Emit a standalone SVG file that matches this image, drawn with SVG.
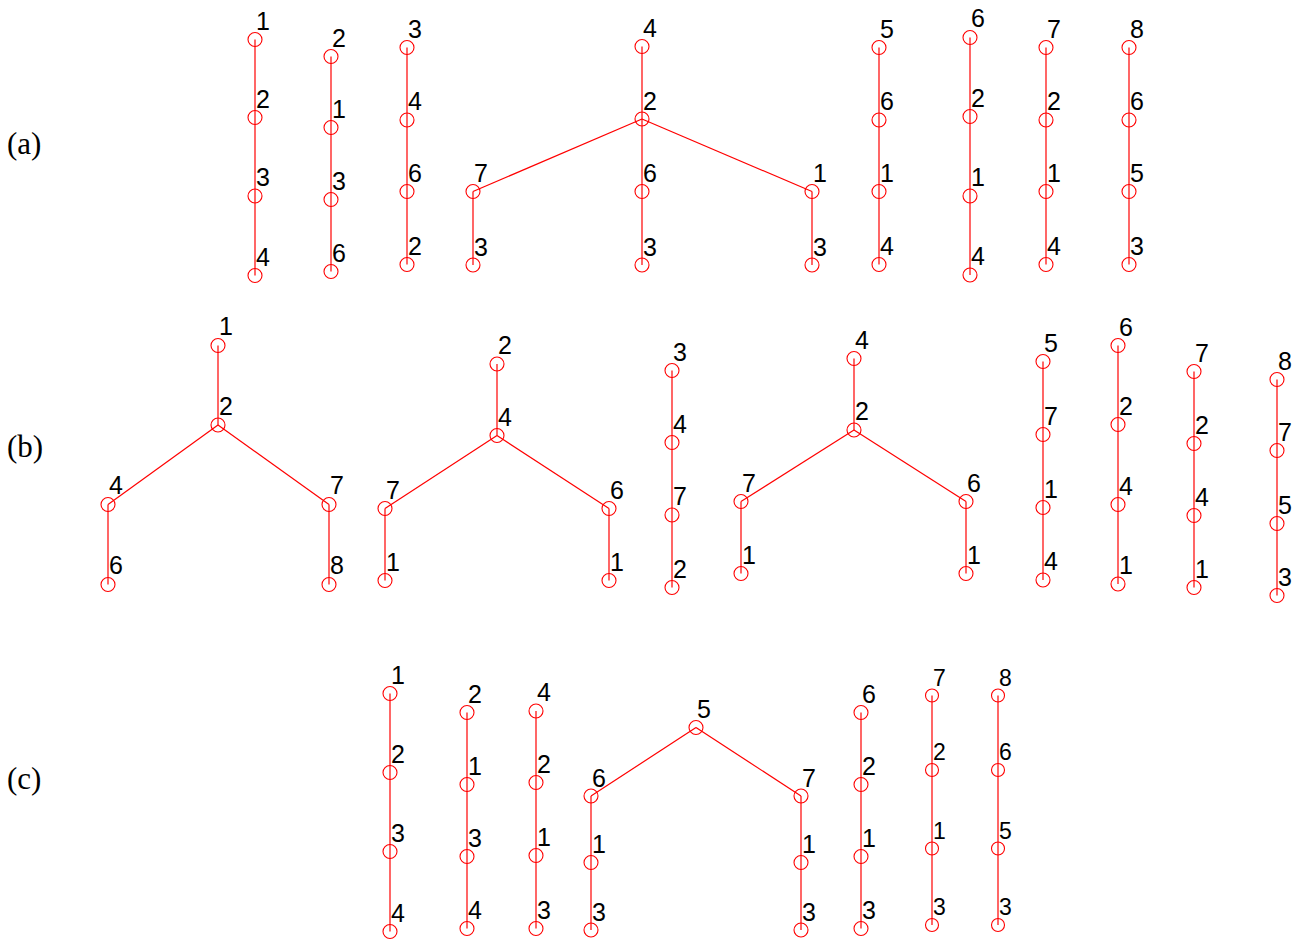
<svg xmlns="http://www.w3.org/2000/svg" width="1301" height="940" viewBox="0 0 1301 940">
<style>
.e{stroke:#ff0000;stroke-width:1.2;fill:none}
.n circle{fill:none;stroke:#ff0000;stroke-width:1.1}
.n text{font-family:"Liberation Sans",Arial,sans-serif;font-size:25px;fill:#000}
.n.sm text{font-size:23px}
.rl{font-family:"Liberation Serif","Times New Roman",serif;font-size:31px;fill:#000}
</style>
<rect width="1301" height="940" fill="#fff"/>
<text class="rl" x="7" y="154">(a)</text>
<text class="rl" x="7" y="457">(b)</text>
<text class="rl" x="7" y="789">(c)</text>
<g id="connectors">
<line class="e" x1="255" y1="39.5" x2="255" y2="275.5"/>
<line class="e" x1="331" y1="56.5" x2="331" y2="271.5"/>
<line class="e" x1="407" y1="47.5" x2="407" y2="264.5"/>
<line class="e" x1="642" y1="46.5" x2="642" y2="265"/>
<line class="e" x1="642" y1="119" x2="473" y2="191.5"/>
<line class="e" x1="642" y1="119" x2="812" y2="191.5"/>
<line class="e" x1="473" y1="191.5" x2="473" y2="265"/>
<line class="e" x1="812" y1="191.5" x2="812" y2="265"/>
<line class="e" x1="879" y1="47.5" x2="879" y2="264.5"/>
<line class="e" x1="970" y1="37.5" x2="970" y2="275"/>
<line class="e" x1="1046" y1="47.5" x2="1046" y2="264.5"/>
<line class="e" x1="1129" y1="47.5" x2="1129" y2="264.5"/>
<line class="e" x1="218" y1="345.5" x2="218" y2="425"/>
<line class="e" x1="218" y1="425" x2="108" y2="504.5"/>
<line class="e" x1="218" y1="425" x2="329" y2="504.5"/>
<line class="e" x1="108" y1="504.5" x2="108" y2="584.5"/>
<line class="e" x1="329" y1="504.5" x2="329" y2="584.5"/>
<line class="e" x1="497" y1="364" x2="497" y2="435.5"/>
<line class="e" x1="497" y1="435.5" x2="385" y2="508.5"/>
<line class="e" x1="497" y1="435.5" x2="609" y2="508.5"/>
<line class="e" x1="385" y1="508.5" x2="385" y2="580.5"/>
<line class="e" x1="609" y1="508.5" x2="609" y2="580.5"/>
<line class="e" x1="672" y1="370.5" x2="672" y2="587.5"/>
<line class="e" x1="854" y1="358.5" x2="854" y2="430"/>
<line class="e" x1="854" y1="430" x2="741" y2="501.5"/>
<line class="e" x1="854" y1="430" x2="966" y2="501.5"/>
<line class="e" x1="741" y1="501.5" x2="741" y2="573.5"/>
<line class="e" x1="966" y1="501.5" x2="966" y2="573.5"/>
<line class="e" x1="1043" y1="361.5" x2="1043" y2="580"/>
<line class="e" x1="1118" y1="345.5" x2="1118" y2="584"/>
<line class="e" x1="1194" y1="371.5" x2="1194" y2="587.5"/>
<line class="e" x1="1277" y1="379.5" x2="1277" y2="595.5"/>
<line class="e" x1="390" y1="693.5" x2="390" y2="931.5"/>
<line class="e" x1="467" y1="712.5" x2="467" y2="928.5"/>
<line class="e" x1="536" y1="711" x2="536" y2="928.5"/>
<line class="e" x1="696" y1="727.5" x2="591" y2="796"/>
<line class="e" x1="696" y1="727.5" x2="801" y2="796"/>
<line class="e" x1="591" y1="796" x2="591" y2="930"/>
<line class="e" x1="801" y1="796" x2="801" y2="930"/>
<line class="e" x1="861" y1="712.5" x2="861" y2="928.5"/>
<line class="e" x1="932" y1="695.5" x2="932" y2="925"/>
<line class="e" x1="998" y1="695.5" x2="998" y2="925"/>
</g>
<g id="a1-1" class="n"><circle cx="255" cy="39.5" r="7"/><text x="256" y="29.5">1</text></g>
<g id="a1-2" class="n"><circle cx="255" cy="117.5" r="7"/><text x="256" y="107.5">2</text></g>
<g id="a1-3" class="n"><circle cx="255" cy="196" r="7"/><text x="256" y="186">3</text></g>
<g id="a1-4" class="n"><circle cx="255" cy="275.5" r="7"/><text x="256" y="265.5">4</text></g>
<g id="a2-2" class="n"><circle cx="331" cy="56.5" r="7"/><text x="332" y="46.5">2</text></g>
<g id="a2-1" class="n"><circle cx="331" cy="127.5" r="7"/><text x="332" y="117.5">1</text></g>
<g id="a2-3" class="n"><circle cx="331" cy="199.5" r="7"/><text x="332" y="189.5">3</text></g>
<g id="a2-6" class="n"><circle cx="331" cy="271.5" r="7"/><text x="332" y="261.5">6</text></g>
<g id="a3-3" class="n"><circle cx="407" cy="47.5" r="7"/><text x="408" y="37.5">3</text></g>
<g id="a3-4" class="n"><circle cx="407" cy="120" r="7"/><text x="408" y="110">4</text></g>
<g id="a3-6" class="n"><circle cx="407" cy="191.5" r="7"/><text x="408" y="181.5">6</text></g>
<g id="a3-2" class="n"><circle cx="407" cy="264.5" r="7"/><text x="408" y="254.5">2</text></g>
<g id="a4-4" class="n"><circle cx="642" cy="46.5" r="7"/><text x="643" y="37">4</text></g>
<g id="a4-2" class="n"><circle cx="642" cy="119" r="7"/><text x="643" y="109.5">2</text></g>
<g id="a4-7" class="n"><circle cx="473" cy="191.5" r="7"/><text x="474" y="182">7</text></g>
<g id="a4-6" class="n"><circle cx="642" cy="191.5" r="7"/><text x="643" y="182">6</text></g>
<g id="a4-1" class="n"><circle cx="812" cy="191.5" r="7"/><text x="813" y="182">1</text></g>
<g id="a4-3a" class="n"><circle cx="473" cy="265" r="7"/><text x="474" y="255.5">3</text></g>
<g id="a4-3b" class="n"><circle cx="642" cy="265" r="7"/><text x="643" y="255.5">3</text></g>
<g id="a4-3c" class="n"><circle cx="812" cy="265" r="7"/><text x="813" y="255.5">3</text></g>
<g id="a5-5" class="n"><circle cx="879" cy="47.5" r="7"/><text x="880" y="37.5">5</text></g>
<g id="a5-6" class="n"><circle cx="879" cy="120" r="7"/><text x="880" y="110">6</text></g>
<g id="a5-1" class="n"><circle cx="879" cy="191.5" r="7"/><text x="880" y="181.5">1</text></g>
<g id="a5-4" class="n"><circle cx="879" cy="264.5" r="7"/><text x="880" y="254.5">4</text></g>
<g id="a6-6" class="n"><circle cx="970" cy="37.5" r="7"/><text x="971" y="26.5">6</text></g>
<g id="a6-2" class="n"><circle cx="970" cy="116.5" r="7"/><text x="971" y="106.5">2</text></g>
<g id="a6-1" class="n"><circle cx="970" cy="196" r="7"/><text x="971" y="186">1</text></g>
<g id="a6-4" class="n"><circle cx="970" cy="275" r="7"/><text x="971" y="265">4</text></g>
<g id="a7-7" class="n"><circle cx="1046" cy="47.5" r="7"/><text x="1047" y="37.5">7</text></g>
<g id="a7-2" class="n"><circle cx="1046" cy="120" r="7"/><text x="1047" y="110">2</text></g>
<g id="a7-1" class="n"><circle cx="1046" cy="191.5" r="7"/><text x="1047" y="181.5">1</text></g>
<g id="a7-4" class="n"><circle cx="1046" cy="264.5" r="7"/><text x="1047" y="254.5">4</text></g>
<g id="a8-8" class="n"><circle cx="1129" cy="47.5" r="7"/><text x="1130" y="37.5">8</text></g>
<g id="a8-6" class="n"><circle cx="1129" cy="120" r="7"/><text x="1130" y="110">6</text></g>
<g id="a8-5" class="n"><circle cx="1129" cy="191.5" r="7"/><text x="1130" y="181.5">5</text></g>
<g id="a8-3" class="n"><circle cx="1129" cy="264.5" r="7"/><text x="1130" y="254.5">3</text></g>
<g id="b1-1" class="n"><circle cx="218" cy="345.5" r="7"/><text x="219" y="335">1</text></g>
<g id="b1-2" class="n"><circle cx="218" cy="425" r="7"/><text x="219" y="415">2</text></g>
<g id="b1-4" class="n"><circle cx="108" cy="504.5" r="7"/><text x="109" y="494">4</text></g>
<g id="b1-7" class="n"><circle cx="329" cy="504.5" r="7"/><text x="330" y="494">7</text></g>
<g id="b1-6" class="n"><circle cx="108" cy="584.5" r="7"/><text x="109" y="574">6</text></g>
<g id="b1-8" class="n"><circle cx="329" cy="584.5" r="7"/><text x="330" y="574">8</text></g>
<g id="b2-2" class="n"><circle cx="497" cy="364" r="7"/><text x="498" y="354">2</text></g>
<g id="b2-4" class="n"><circle cx="497" cy="435.5" r="7"/><text x="498" y="425.5">4</text></g>
<g id="b2-7" class="n"><circle cx="385" cy="508.5" r="7"/><text x="386" y="498.5">7</text></g>
<g id="b2-6" class="n"><circle cx="609" cy="508.5" r="7"/><text x="610" y="498.5">6</text></g>
<g id="b2-1a" class="n"><circle cx="385" cy="580.5" r="7"/><text x="386" y="570.5">1</text></g>
<g id="b2-1b" class="n"><circle cx="609" cy="580.5" r="7"/><text x="610" y="570.5">1</text></g>
<g id="b3-3" class="n"><circle cx="672" cy="370.5" r="7"/><text x="673" y="360.5">3</text></g>
<g id="b3-4" class="n"><circle cx="672" cy="442.5" r="7"/><text x="673" y="432.5">4</text></g>
<g id="b3-7" class="n"><circle cx="672" cy="515" r="7"/><text x="673" y="505">7</text></g>
<g id="b3-2" class="n"><circle cx="672" cy="587.5" r="7"/><text x="673" y="577.5">2</text></g>
<g id="b4-4" class="n"><circle cx="854" cy="358.5" r="7"/><text x="855" y="348.5">4</text></g>
<g id="b4-2" class="n"><circle cx="854" cy="430" r="7"/><text x="855" y="420">2</text></g>
<g id="b4-7" class="n"><circle cx="741" cy="501.5" r="7"/><text x="742" y="491.5">7</text></g>
<g id="b4-6" class="n"><circle cx="966" cy="501.5" r="7"/><text x="967" y="491.5">6</text></g>
<g id="b4-1a" class="n"><circle cx="741" cy="573.5" r="7"/><text x="742" y="563.5">1</text></g>
<g id="b4-1b" class="n"><circle cx="966" cy="573.5" r="7"/><text x="967" y="563.5">1</text></g>
<g id="b5-5" class="n"><circle cx="1043" cy="361.5" r="7"/><text x="1044" y="351.5">5</text></g>
<g id="b5-7" class="n"><circle cx="1043" cy="434.5" r="7"/><text x="1044" y="424.5">7</text></g>
<g id="b5-1" class="n"><circle cx="1043" cy="507.5" r="7"/><text x="1044" y="497.5">1</text></g>
<g id="b5-4" class="n"><circle cx="1043" cy="580" r="7"/><text x="1044" y="570">4</text></g>
<g id="b6-6" class="n"><circle cx="1118" cy="345.5" r="7"/><text x="1119" y="335.5">6</text></g>
<g id="b6-2" class="n"><circle cx="1118" cy="424.5" r="7"/><text x="1119" y="414.5">2</text></g>
<g id="b6-4" class="n"><circle cx="1118" cy="504.5" r="7"/><text x="1119" y="494.5">4</text></g>
<g id="b6-1" class="n"><circle cx="1118" cy="584" r="7"/><text x="1119" y="574">1</text></g>
<g id="b7-7" class="n"><circle cx="1194" cy="371.5" r="7"/><text x="1195" y="361.5">7</text></g>
<g id="b7-2" class="n"><circle cx="1194" cy="443.5" r="7"/><text x="1195" y="433.5">2</text></g>
<g id="b7-4" class="n"><circle cx="1194" cy="515.5" r="7"/><text x="1195" y="505.5">4</text></g>
<g id="b7-1" class="n"><circle cx="1194" cy="587.5" r="7"/><text x="1195" y="577.5">1</text></g>
<g id="b8-8" class="n"><circle cx="1277" cy="379.5" r="7"/><text x="1278" y="369.5">8</text></g>
<g id="b8-7" class="n"><circle cx="1277" cy="450.5" r="7"/><text x="1278" y="440.5">7</text></g>
<g id="b8-5" class="n"><circle cx="1277" cy="523.5" r="7"/><text x="1278" y="513.5">5</text></g>
<g id="b8-3" class="n"><circle cx="1277" cy="595.5" r="7"/><text x="1278" y="585.5">3</text></g>
<g id="c1-1" class="n"><circle cx="390" cy="693.5" r="7"/><text x="391" y="683.5">1</text></g>
<g id="c1-2" class="n"><circle cx="390" cy="772.5" r="7"/><text x="391" y="762.5">2</text></g>
<g id="c1-3" class="n"><circle cx="390" cy="851.5" r="7"/><text x="391" y="841.5">3</text></g>
<g id="c1-4" class="n"><circle cx="390" cy="931.5" r="7"/><text x="391" y="921.5">4</text></g>
<g id="c2-2" class="n"><circle cx="467" cy="712.5" r="7"/><text x="468" y="702.5">2</text></g>
<g id="c2-1" class="n"><circle cx="467" cy="784.5" r="7"/><text x="468" y="774.5">1</text></g>
<g id="c2-3" class="n"><circle cx="467" cy="856.5" r="7"/><text x="468" y="846.5">3</text></g>
<g id="c2-4" class="n"><circle cx="467" cy="928.5" r="7"/><text x="468" y="918.5">4</text></g>
<g id="c3-4" class="n"><circle cx="536" cy="711" r="7"/><text x="537" y="701">4</text></g>
<g id="c3-2" class="n"><circle cx="536" cy="782.5" r="7"/><text x="537" y="772.5">2</text></g>
<g id="c3-1" class="n"><circle cx="536" cy="855.5" r="7"/><text x="537" y="845.5">1</text></g>
<g id="c3-3" class="n"><circle cx="536" cy="928.5" r="7"/><text x="537" y="918.5">3</text></g>
<g id="c4-5" class="n"><circle cx="696" cy="727.5" r="7"/><text x="697" y="718">5</text></g>
<g id="c4-6" class="n"><circle cx="591" cy="796" r="7"/><text x="592" y="786.5">6</text></g>
<g id="c4-7" class="n"><circle cx="801" cy="796" r="7"/><text x="802" y="786.5">7</text></g>
<g id="c4-1a" class="n"><circle cx="591" cy="862.5" r="7"/><text x="592" y="853">1</text></g>
<g id="c4-1b" class="n"><circle cx="801" cy="862.5" r="7"/><text x="802" y="853">1</text></g>
<g id="c4-3a" class="n"><circle cx="591" cy="930" r="7"/><text x="592" y="920.5">3</text></g>
<g id="c4-3b" class="n"><circle cx="801" cy="930" r="7"/><text x="802" y="920.5">3</text></g>
<g id="c5-6" class="n"><circle cx="861" cy="712.5" r="7"/><text x="862" y="703">6</text></g>
<g id="c5-2" class="n"><circle cx="861" cy="784.5" r="7"/><text x="862" y="775">2</text></g>
<g id="c5-1" class="n"><circle cx="861" cy="856.5" r="7"/><text x="862" y="847">1</text></g>
<g id="c5-3" class="n"><circle cx="861" cy="928.5" r="7"/><text x="862" y="919">3</text></g>
<g id="c6-7" class="n sm"><circle cx="932" cy="695.5" r="6.5"/><text x="933" y="685.5">7</text></g>
<g id="c6-2" class="n sm"><circle cx="932" cy="770" r="6.5"/><text x="933" y="760">2</text></g>
<g id="c6-1" class="n sm"><circle cx="932" cy="848.5" r="6.5"/><text x="933" y="838.5">1</text></g>
<g id="c6-3" class="n sm"><circle cx="932" cy="925" r="6.5"/><text x="933" y="915">3</text></g>
<g id="c7-8" class="n sm"><circle cx="998" cy="695.5" r="6.5"/><text x="999" y="685.5">8</text></g>
<g id="c7-6" class="n sm"><circle cx="998" cy="770" r="6.5"/><text x="999" y="760">6</text></g>
<g id="c7-5" class="n sm"><circle cx="998" cy="848.5" r="6.5"/><text x="999" y="838.5">5</text></g>
<g id="c7-3" class="n sm"><circle cx="998" cy="925" r="6.5"/><text x="999" y="915">3</text></g>
</svg>
